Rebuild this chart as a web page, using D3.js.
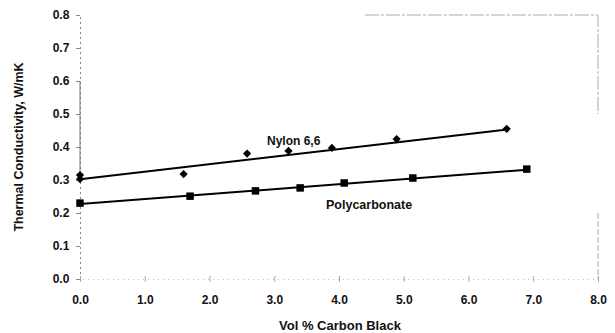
<!DOCTYPE html>
<html>
<head>
<meta charset="utf-8">
<script src="https://cdn.jsdelivr.net/npm/d3@7"></script>
<style>
    body { margin: 0; background: #fff; }
    svg text { font-family: "Liberation Sans", Arial, sans-serif; font-weight: bold; fill: #111; }
</style>
</head>
<body>
<div id="chart"></div>
<script>
// nylon 6,6 measurements
const NYLON_X = [0, 0, 1.6, 2.58, 3.22, 3.89, 4.89, 6.59];
const NYLON_Y = [0.315, 0.303, 0.318, 0.38, 0.388, 0.397, 0.424, 0.455];
// nylon trend line end points
const NYLON_FIT_X = [0, 6.6];
const NYLON_FIT_Y = [0.302, 0.453];

// polycarbonate measurements
const PC_X = [0, 1.7, 2.71, 3.4, 4.08, 5.14, 6.9];
const PC_Y = [0.23, 0.251, 0.267, 0.276, 0.291, 0.306, 0.333];
// polycarbonate trend line end points
const PC_FIT_X = [0, 6.9];
const PC_FIT_Y = [0.227, 0.331];

// tick labels
const X_TICKS = [0, 1, 2, 3, 4, 5, 6, 7, 8];
const Y_TICKS = [0, 0.1, 0.2, 0.3, 0.4, 0.5, 0.6, 0.7, 0.8];

// square diamond (d3's one is too tall)
const squareDiamond = {
    draw(ctx, size) {
        const r = Math.sqrt(size / 2);
        ctx.moveTo(0, -r);
        ctx.lineTo(r, 0);
        ctx.lineTo(0, r);
        ctx.lineTo(-r, 0);
        ctx.closePath();
    }
};

function drawChart() {
    const W = 615, H = 333;
    const left = 80, right = 598, top = 15, bottom = 279;

    const svg = d3.select("#chart").append("svg")
        .attr("width", W).attr("height", H);

    const x = d3.scaleLinear().domain([0, 8]).range([left, right]);
    const y = d3.scaleLinear().domain([0, 0.8]).range([bottom, top]);

    // faint frame top/right like the scan
    svg.append("path")
        .attr("d", `M${x(4.4)},${y(0.8)}H${x(8)}V${y(0.5)}`)
        .attr("fill", "none").attr("stroke", "#aaa").attr("stroke-width", 1)
        .attr("stroke-dasharray", "14,2,3,2");
    svg.append("line")
        .attr("x1", x(8)).attr("x2", x(8)).attr("y1", y(0.2)).attr("y2", y(0))
        .attr("stroke", "#aaa").attr("stroke-dasharray", "6,2");

    // y axis
    const yAxis = svg.append("g")
        .attr("transform", `translate(${left},0)`)
        .call(d3.axisLeft(y).tickValues(Y_TICKS).tickSize(4).tickFormat(d3.format(".1f")));
    yAxis.select(".domain").attr("stroke", "#888").attr("stroke-dasharray", "2,3");
    yAxis.append("line")
        .attr("y1", y(0.6)).attr("y2", y(0.3)).attr("stroke", "#777");
    yAxis.selectAll(".tick line").attr("stroke", "#888");
    yAxis.selectAll(".tick text").attr("x", -19).attr("text-anchor", "middle")
        .attr("font-size", 12).attr("fill", "#111");

    // x axis
    const xAxis = svg.append("g")
        .attr("transform", `translate(0,${bottom})`)
        .call(d3.axisBottom(x).tickValues(X_TICKS).tickSize(3).tickFormat(d3.format(".1f")));
    xAxis.select(".domain").attr("stroke", "#bbb").attr("stroke-dasharray", "1,4");
    xAxis.selectAll(".tick line").attr("stroke", "#aaa").attr("y1", -3);
    xAxis.selectAll(".tick text").attr("y", 16).attr("font-size", 12).attr("fill", "#111");

    const line = d3.line().x((d) => x(d[0])).y((d) => y(d[1]));

    // trend lines
    svg.append("path")
        .attr("d", line(d3.zip(NYLON_FIT_X, NYLON_FIT_Y)))
        .attr("stroke", "#000").attr("stroke-width", 2).attr("fill", "none");
    svg.append("path")
        .attr("d", line(d3.zip(PC_FIT_X, PC_FIT_Y)))
        .attr("stroke", "#000").attr("stroke-width", 2).attr("fill", "none");

    // nylon diamonds
    svg.selectAll(".nylon")
        .data(d3.zip(NYLON_X, NYLON_Y))
        .enter().append("path")
        .attr("class", "nylon")
        .attr("transform", (d) => `translate(${x(d[0])},${y(d[1])})`)
        .attr("d", d3.symbol(squareDiamond, 34))
        .attr("fill", "#000");

    // polycarbonate squares
    svg.selectAll(".pc")
        .data(d3.zip(PC_X, PC_Y))
        .enter().append("path")
        .attr("class", "pc")
        .attr("transform", (d) => `translate(${x(d[0])},${y(d[1])})`)
        .attr("d", d3.symbol(d3.symbolSquare, 56))
        .attr("fill", "#000");

    // series labels
    svg.append("text").attr("x", 267).attr("y", 145)
        .attr("font-size", 12).text("Nylon 6,6");
    svg.append("text").attr("x", 326).attr("y", 209)
        .attr("font-size", 12.5).text("Polycarbonate");

    // axis titles
    svg.append("text")
        .attr("transform", `translate(23,${(top + bottom) / 2}) rotate(-90)`)
        .attr("text-anchor", "middle").attr("font-size", 12.5)
        .text("Thermal Conductivity, W/mK");
    svg.append("text")
        .attr("x", 340).attr("y", 330)
        .attr("text-anchor", "middle").attr("font-size", 13)
        .text("Vol % Carbon Black");
}

window.onload = drawChart;
</script>
</body>
</html>
